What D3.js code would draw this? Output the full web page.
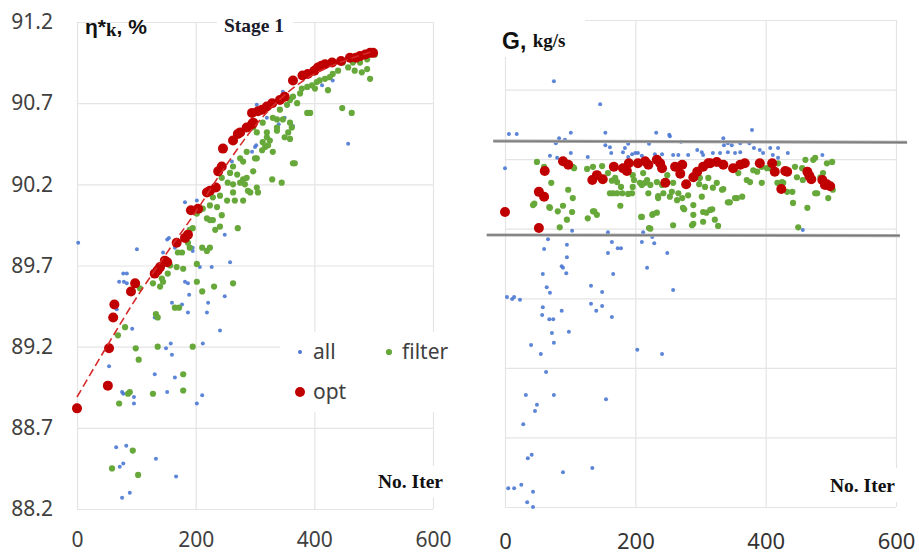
<!DOCTYPE html>
<html><head><meta charset="utf-8">
<script src="https://cdn.jsdelivr.net/npm/d3@7"></script>
<style>html,body{margin:0;padding:0;background:#fff;}svg{display:block;}</style>
</head><body>
<svg id="c" width="919" height="555"></svg>
<script>
// ---------- DATA (left: efficiency eta*k, %, vs iteration) ----------
const xTicks = [0, 200, 400, 600];
const etaTicks = [88.2, 88.7, 89.2, 89.7, 90.2, 90.7, 91.2];
const gTicks = [91, 92, 93, 94, 95, 96, 97, 98];

const optEta = [[0,88.82],[52,88.96],[54,89.19],[61,89.38],[63,89.46],[91,89.54],[98,89.59],[131,89.65],[136,89.67],[140,89.69],[152,89.72],[148,89.73],[168,89.84],[182,89.87],[187,89.89],[192,90.04],[204,90.05],[219,90.15],[224,90.16],[234,90.18],[238,90.28],[244,90.31],[246,90.42],[263,90.47],[271,90.51],[275,90.52],[286,90.55],[295,90.57],[297,90.58],[295,90.64],[305,90.65],[312,90.66],[320,90.68],[329,90.70],[342,90.72],[350,90.74],[364,90.84],[380,90.87],[389,90.88],[400,90.90],[406,90.92],[412,90.93],[418,90.94],[430,90.95],[445,90.96],[460,90.98],[470,90.98],[477,90.99],[486,91.00],[494,91.01],[499,91.01]];

const filterEta = [[502,91.00],[489,90.97],[477,90.95],[465,90.95],[448,90.95],[457,90.92],[489,90.91],[480,90.89],[494,90.85],[468,90.90],[440,90.90],[431,90.88],[426,90.86],[418,90.85],[409,90.84],[404,90.83],[396,90.81],[388,90.80],[379,90.79],[401,90.79],[423,90.78],[376,90.76],[364,90.74],[359,90.72],[371,90.70],[354,90.69],[388,90.64],[393,90.64],[447,90.67],[463,90.64],[342,90.66],[330,90.61],[313,90.58],[297,90.55],[320,90.52],[337,90.60],[347,90.60],[359,90.58],[362,90.55],[337,90.55],[325,90.47],[317,90.43],[330,90.40],[312,90.41],[300,90.36],[286,90.40],[275,90.36],[263,90.31],[258,90.27],[254,90.21],[263,90.20],[275,90.21],[286,90.24],[283,90.20],[288,90.16],[303,90.18],[297,90.28],[305,90.15],[266,90.10],[280,90.10],[229,90.12],[224,90.07],[212,90.05],[202,90.02],[219,89.99],[229,89.98],[241,89.94],[271,89.93],[329,90.23],[345,90.21],[364,90.33],[350,90.49],[356,90.52],
[244,90.24],[270,90.26],[280,90.23],[292,90.15],[263,90.15],[253,90.10],[241,90.13],[236,90.06],[244,90.01],[224,89.98],[233,89.92],[195,89.93],[190,89.92],[207,90.04],[190,89.81],[211,89.81],[224,89.81],[170,89.78],[177,89.78],[187,89.84],[322,90.44],[280,90.34],[303,90.36],[303,90.52],[320,90.49],[337,90.53],[359,90.48],[367,90.33],[313,90.46],
[219,89.79],[157,89.70],[168,89.69],[179,89.68],[153,89.65],[202,89.71],[202,89.60],[145,89.60],[140,89.57],[143,89.62],[128,89.59],[211,89.54],[231,89.57],[263,89.59],[165,89.44],[172,89.44],[133,89.40],[136,89.38],[106,89.56],[81,89.32],[69,89.27],[99,89.19],[104,89.12],[136,89.20],[195,89.20],[179,89.03],[179,88.93],[128,88.91],[89,88.92],[86,88.91],[71,88.85],[94,88.56],[59,88.45],[103,88.41]];

const allOnlyEta = [[2,89.84],[101,89.80],[182,90.09],[202,90.10],[270,90.26],[300,90.43],[303,90.69],[347,90.77],[376,90.76],[413,90.81],[431,90.84],[457,90.45],[320,90.61],[350,90.61],[258,89.72],[227,89.69],[195,89.81],[152,89.86],[165,89.81],[249,89.89],[364,90.56],[155,89.87],[145,89.78],[261,90.34],[302,90.44],[295,90.40],[340,90.57],[78,89.65],[84,89.65],[71,89.60],[79,89.60],[84,89.59],[195,89.79],[207,89.69],[182,89.60],[187,89.59],[189,89.52],[249,89.51],[221,89.47],[160,89.47],[177,89.46],[187,89.41],[219,89.41],[241,89.30],[131,89.38],[67,89.43],[93,89.31],[158,89.22],[150,89.19],[160,89.15],[212,89.22],[54,89.08],[131,89.03],[165,89.01],[152,88.92],[78,88.91],[96,88.89],[211,88.90],[76,88.92],[96,88.85],[202,88.85],[66,88.58],[83,88.59],[133,88.51],[72,88.46],[78,88.48],[167,88.40],[89,88.30],[76,88.27]];
const allEta = allOnlyEta.concat(filterEta, optEta);

// trend line (dashed)
const trendEta = [[0,88.89],[50,89.20],[100,89.50],[150,89.77],[200,90.03],[250,90.31],[300,90.56],[350,90.75],[400,90.88],[450,90.96],[500,91.02]];

// ---------- DATA (right: mass flow G, kg/s, vs iteration) ----------
const optG = [[0,95.24],[52,95.01],[52,95.53],[60,95.46],[61,95.83],[89,95.97],[97,95.92],[134,95.70],[141,95.77],[150,95.71],[167,95.89],[181,95.87],[187,95.83],[190,95.94],[204,95.94],[215,95.97],[220,95.92],[233,95.99],[238,95.94],[241,95.87],[246,95.66],[261,95.89],[269,95.79],[272,95.92],[278,95.64],[289,95.74],[295,95.82],[304,95.89],[312,95.94],[315,95.94],[325,95.96],[335,95.92],[350,95.87],[361,95.92],[368,95.94],[391,95.94],[410,95.94],[414,95.82],[424,95.57],[430,95.83],[433,95.82],[464,95.82],[467,95.76],[470,95.71],[487,95.70],[491,95.63],[494,95.64],[499,95.61]];

const filterG = [[49,95.96],[45,95.36],[68,95.31],[71,95.66],[81,95.25],[84,95.02],[95,95.13],[97,95.56],[103,95.24],[104,95.44],[106,95.87],[127,95.15],[135,95.25],[141,95.20],[149,95.90],[164,95.69],[166,95.51],[177,95.33],[189,95.50],[196,95.60],[207,95.66],[210,95.17],[215,95.66],[223,95.00],[226,95.20],[233,95.23],[235,95.44],[243,95.51],[253,95.46],[258,95.05],[266,95.51],[275,95.28],[289,95.34],[289,95.07],[298,95.64],[302,95.46],[309,95.23],[312,95.73],[318,95.28],[325,95.66],[335,95.57],[342,95.38],[356,95.44],[364,95.46],[358,95.80],[371,95.70],[376,95.67],[381,95.84],[394,95.66],[402,95.87],[419,95.94],[425,95.67],[442,95.37],[445,95.89],[450,95.02],[456,95.87],[464,95.30],[476,95.51],[484,95.74],[494,95.94],[496,95.44],[503,95.56],[502,95.96],[473,95.99],[457,95.70],[441,95.53],[196,95.77],[212,95.80],
[60,95.89],[104,95.89],[126,95.86],[135,95.89],[158,95.80],[172,95.67],[178,95.60],[169,95.73],[161,95.51],[172,95.51],[180,95.51],[195,95.51],[198,95.70],[210,95.63],[218,95.70],[223,95.63],[233,95.67],[241,95.63],[220,95.51],[235,95.47],[209,95.17],[227,95.21],[221,95.01],[43,95.34],[69,95.30],[89,95.33],[137,95.25],
[249,95.77],[258,95.66],[256,95.53],[264,95.41],[272,95.44],[273,95.30],[281,95.48],[289,95.20],[287,95.05],[304,95.24],[315,95.27],[322,95.13],[327,95.04],[304,95.10],[319,95.59],[333,95.56],[345,95.38],[353,95.44],[387,95.82],[394,95.89],[407,95.87],[418,95.66],[427,95.66],[433,95.53],[448,95.74],[461,95.99],[476,96.02],[479,95.51],[488,95.80],[299,95.73],[307,95.60]];

const allOnlyG = [[75,97.12],[146,96.79],[6,96.36],[18,96.36],[379,96.42],[253,96.33],[232,96.38],[0,95.87],[83,96.30],[78,96.23],[101,96.38],[92,96.28],[101,96.09],[69,96.05],[80,96.02],[127,96.03],[154,96.38],[154,96.20],[161,96.17],[163,96.09],[181,96.10],[184,96.16],[189,96.22],[195,96.07],[200,96.09],[204,96.09],[210,96.05],[221,96.22],[230,96.07],[241,96.07],[189,96.03],[252,96.35],[270,96.25],[335,96.30],[336,96.20],[342,96.23],[348,96.20],[361,96.23],[375,96.23],[382,96.16],[391,96.13],[396,96.09],[407,96.16],[411,96.06],[419,96.16],[434,96.09],[419,96.02],[361,96.10],[353,96.09],[342,96.10],[330,96.09],[319,96.09],[302,96.10],[304,96.06],[295,96.13],[281,96.06],[266,96.06],[258,96.06],[487,96.06],[457,94.98],
[103,94.97],[158,94.95],[212,94.95],[66,94.85],[60,94.71],[95,94.77],[95,94.59],[164,94.81],[173,94.72],[178,94.72],[158,94.65],[210,94.81],[226,94.88],[229,94.79],[249,94.65],[218,94.44],[87,94.46],[89,94.44],[94,94.36],[58,94.35],[166,94.35],[64,94.16],[69,94.08],[132,94.18],[149,94.09],[258,94.12],[3,94.02],[11,93.99],[14,94.02],[23,93.98],[58,93.87],[57,93.76],[87,93.82],[68,93.70],[74,93.70],[132,93.92],[149,93.89],[140,93.82],[164,93.73],[72,93.50],[98,93.52],[40,93.33],[55,93.20],[75,93.36],[203,93.26],[241,93.20],[63,92.94],[32,92.61],[75,92.61],[155,92.55],[49,92.47],[46,92.38],[28,92.19],[35,91.70],[41,91.75],[89,91.50],[134,91.56],[25,91.32],[5,91.27],[14,91.27],[43,91.22],[34,91.07],[43,91.00]];
const allG = allOnlyG.concat(filterG, optG);

// limit lines (grey) on the G chart
const limitUpper = [[-18,96.26],[617,96.24]];
const limitLower = [[-28,94.91],[606,94.90]];

// ---------- DRAW ----------
const svg = d3.select("#c");
const gridColor = "#e4e4e4";
const tickFont = "'Noto Sans', sans-serif";
const colAll = "#4a78d4", colFilter = "#67a83a", colOpt = "#c00000";
const rAll = 2.0, rFilter = 3.1, rOpt = 5.0;

// Left panel scales
const xL = d3.scaleLinear().domain([0, 600]).range([77, 433]);
const yL = d3.scaleLinear().domain([88.2, 91.2]).range([509, 22]);
// Right panel scales
const xR = d3.scaleLinear().domain([0, 600]).range([505, 896]);
const yR = d3.scaleLinear().domain([91, 98]).range([507, 20]);

function grid(x, y, xt, yt) {
  const g = svg.append("g");
  g.append("g").attr("transform", `translate(0,${y.range()[0]})`)
    .call(d3.axisBottom(x).tickValues(xt).tickSize(-(y.range()[0]-y.range()[1])).tickFormat(""))
    .call(s => { s.select(".domain").remove(); s.selectAll("line").attr("stroke", gridColor).attr("stroke-width", 1.2); });
  g.append("g").attr("transform", `translate(${x.range()[0]},0)`)
    .call(d3.axisLeft(y).tickValues(yt).tickSize(-(x.range()[1]-x.range()[0])).tickFormat(""))
    .call(s => { s.select(".domain").remove(); s.selectAll("line").attr("stroke", gridColor).attr("stroke-width", 1.2); });
}
grid(xL, yL, xTicks, etaTicks);
grid(xR, yR, xTicks, gTicks);

// tick labels
svg.append("g").attr("transform", "translate(77,0)")
  .call(d3.axisLeft(yL).tickValues(etaTicks).tickSize(0).tickPadding(24).tickFormat(d3.format(".1f")))
  .call(s => { s.select(".domain").remove(); s.selectAll("text").attr("font-family", tickFont).attr("font-size", 21).attr("fill", "#404040"); });
svg.append("g").attr("transform", "translate(0,509)")
  .call(d3.axisBottom(xL).tickValues(xTicks).tickSize(0).tickPadding(23))
  .call(s => { s.select(".domain").remove(); s.selectAll("text").attr("font-family", tickFont).attr("font-size", 21).attr("fill", "#404040"); });
svg.append("g").attr("transform", "translate(0,507)")
  .call(d3.axisBottom(xR).tickValues(xTicks).tickSize(0).tickPadding(26))
  .call(s => { s.select(".domain").remove(); s.selectAll("text").attr("font-family", tickFont).attr("font-size", 22).attr("fill", "#333"); });

// white boxes behind labels
svg.append("rect").attr("x", 217).attr("y", 12).attr("width", 76).attr("height", 28).attr("fill", "#fff");
svg.append("rect").attr("x", 372).attr("y", 466).attr("width", 76).attr("height", 32).attr("fill", "#fff");
svg.append("rect").attr("x", 824).attr("y", 468).attr("width", 82).attr("height", 34).attr("fill", "#fff");
svg.append("rect").attr("x", 478).attr("y", 0).attr("width", 107).attr("height", 57).attr("fill", "#fff");

// scatter
function dots(data, x, y, r, col, op) {
  svg.append("g").selectAll("circle").data(data).join("circle")
    .attr("cx", d => x(d[0])).attr("cy", d => y(d[1])).attr("r", r)
    .attr("fill", col).attr("fill-opacity", op || 1);
}
dots(allEta, xL, yL, rAll, colAll, 0.9);
dots(filterEta, xL, yL, rFilter, colFilter);
dots(optEta, xL, yL, rOpt, colOpt);

dots(allG, xR, yR, rAll, colAll, 0.9);
dots(filterG, xR, yR, rFilter, colFilter);
dots(optG, xR, yR, rOpt, colOpt);

// trend line
svg.append("path").datum(trendEta)
  .attr("d", d3.line().x(d => xL(d[0])).y(d => yL(d[1])).curve(d3.curveMonotoneX))
  .attr("fill", "none").attr("stroke", "#d62a2a").attr("stroke-width", 1.6).attr("stroke-dasharray", "8,4");

// limit lines
[limitUpper, limitLower].forEach(L => {
  const ln = d3.line().x(d => xR(d[0])).y(d => yR(d[1]));
  svg.append("path").datum(L).attr("d", ln).attr("fill", "none").attr("stroke", "#a8a8a8").attr("stroke-width", 3.2);
  svg.append("path").datum(L).attr("d", ln).attr("fill", "none").attr("stroke", "#7a7a7a").attr("stroke-width", 1.3);
});

// legend
svg.append("rect").attr("x", 280).attr("y", 332).attr("width", 176).attr("height", 80).attr("fill", "#fff");
const legItems = [["all", colAll, rAll, 300, 352], ["filter", colFilter, rFilter, 389, 352], ["opt", colOpt, rOpt, 300, 392]];
legItems.forEach(([t, c, r, x, y]) => {
  svg.append("circle").attr("cx", x).attr("cy", y).attr("r", r).attr("fill", c);
  svg.append("text").attr("x", x + 13).attr("y", y + 7).attr("font-family", tickFont).attr("font-size", 21).attr("fill", "#404040").text(t);
});

// titles
const tEta = svg.append("text").attr("x", 85).attr("y", 34).attr("font-weight", "bold").attr("fill", "#111");
tEta.append("tspan").attr("font-family", "'Liberation Sans', Arial, sans-serif").attr("font-size", 21).text("η*");
tEta.append("tspan").attr("font-family", "'Liberation Serif', serif").attr("font-size", 19).attr("dy", 2).text("k");
tEta.append("tspan").attr("font-family", "'Liberation Sans', Arial, sans-serif").attr("font-size", 21).attr("dy", -2).text(", %");

svg.append("text").attr("x", 224).attr("y", 32).attr("font-family", "'Liberation Serif', serif").attr("font-weight", "bold").attr("font-size", 19.5).attr("fill", "#1a1a2a").text("Stage 1");
svg.append("text").attr("x", 378).attr("y", 488).attr("font-family", "'Liberation Serif', serif").attr("font-weight", "bold").attr("font-size", 19.5).attr("fill", "#111").text("No. Iter");
svg.append("text").attr("x", 830).attr("y", 492).attr("font-family", "'Liberation Serif', serif").attr("font-weight", "bold").attr("font-size", 19.5).attr("fill", "#111").text("No. Iter");

const tG = svg.append("text").attr("x", 502).attr("y", 49).attr("font-weight", "bold").attr("fill", "#111");
tG.append("tspan").attr("font-family", "'Liberation Sans', Arial, sans-serif").attr("font-size", 23).text("G, ");
tG.append("tspan").attr("font-family", "'Liberation Serif', serif").attr("font-size", 19).attr("dy", -2).text("kg/s");
</script>
</body></html>
